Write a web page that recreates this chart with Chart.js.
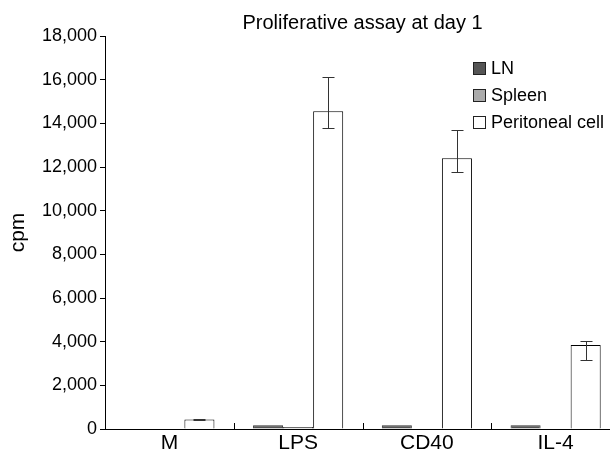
<!DOCTYPE html>
<html>
<head>
<meta charset="utf-8">
<script src="https://cdn.jsdelivr.net/npm/chart.js@4/dist/chart.umd.min.js"></script>
<style>
  body { margin: 0; overflow: hidden; background: #fff; font-family: 'Liberation Sans', Arial, sans-serif; }
  #wrap { position: relative; width: 610px; height: 462px; overflow: hidden; }
  #legend { position: absolute; left: 473px; top: 55px; font-size: 18px; color: #000; }
  .item { height: 27px; display: flex; align-items: center; white-space: nowrap; }
  .box { width: 13px; height: 13px; border: 1px solid #222; margin-right: 5px; box-sizing: border-box; }
</style>
</head>
<body>
<div id="wrap">
  <canvas id="chart" width="620" height="462"></canvas>
  <div id="legend"></div>
</div>
<script>
const categories = ['M', 'LPS', 'CD40', 'IL-4'];
const seriesNames = ['LN', 'Spleen', 'Peritoneal cell'];
const lnValues = [0, 170, 170, 170];
const spleenValues = [0, 90, 0, 0];
const peritonealValues = [440, 14550, 12400, 3850];
const peritonealErrUp = [40, 1550, 1300, 170];
const peritonealErrDown = [40, 780, 640, 680];
const yMax = 18000;
const yStep = 2000;

const fills = ['#555555', '#ababab', '#ffffff'];
const borders = ['#333333', '#222222', '#000000'];

// error bars (peritoneal only) + inner category ticks on the x axis
const extras = {
    id: 'extras',
    afterDatasetsDraw(chart) {
        const ctx = chart.ctx;
        const y = chart.scales.y;
        const x = chart.scales.x;
        const meta = chart.getDatasetMeta(2);
        ctx.save();
        ctx.strokeStyle = '#333';
        ctx.lineWidth = 1;
        meta.data.forEach((bar, i) => {
            const v = peritonealValues[i];
            const top = Math.round(y.getPixelForValue(v + peritonealErrUp[i])) + 0.5;
            const bot = Math.round(y.getPixelForValue(v - peritonealErrDown[i])) + 0.5;
            const cx = Math.round(bar.x) + 0.5;
            ctx.beginPath();
            ctx.moveTo(cx, top); ctx.lineTo(cx, bot);
            ctx.moveTo(cx - 6, top); ctx.lineTo(cx + 6, top);
            ctx.moveTo(cx - 6, bot); ctx.lineTo(cx + 6, bot);
            ctx.stroke();
        });
        ctx.strokeStyle = '#000';
        const base = chart.chartArea.bottom;
        for (let i = 1; i < categories.length; i++) {
            const px = Math.round((x.getPixelForValue(i - 1) + x.getPixelForValue(i)) / 2) + 0.5;
            ctx.beginPath();
            ctx.moveTo(px, base); ctx.lineTo(px, base - 6);
            ctx.stroke();
        }
        ctx.restore();
    }
};

const values = [lnValues, spleenValues, peritonealValues];

let chart = new Chart(document.getElementById('chart').getContext('2d'), {
    type: 'bar',
    data: {
        labels: categories,
        datasets: values.map((v, i) => ({
            label: seriesNames[i],
            data: v,
            backgroundColor: fills[i],
            borderColor: borders[i],
            borderWidth: 1,
            borderSkipped: 'bottom',
            categoryPercentage: 0.7,
            barPercentage: 1.0
        }))
    },
    options: {
        responsive: false,
        animation: false,
        layout: { padding: { left: 6, right: 0, top: 0, bottom: 0 } },
        plugins: {
            legend: { display: false },
            tooltip: { enabled: false },
            title: {
                display: true,
                text: 'Proliferative assay at day 1',
                fullSize: false,
                color: '#000',
                font: { family: 'Liberation Sans', size: 20, weight: 'normal' },
                padding: { top: 11, bottom: 1 }
            }
        },
        scales: {
            x: {
                grid: { display: false, drawTicks: false },
                border: { color: '#000', width: 1 },
                ticks: { color: '#000', padding: 2, font: { family: 'Liberation Sans', size: 21 } },
                afterFit(s) { s.height = 33; }
            },
            y: {
                min: 0,
                max: yMax,
                grid: { drawOnChartArea: false, drawTicks: true, tickLength: 5, color: '#000' },
                border: { color: '#000', width: 1 },
                title: {
                    display: true,
                    text: 'cpm',
                    color: '#000',
                    font: { family: 'Liberation Sans', size: 21 },
                    padding: 0
                },
                ticks: {
                    stepSize: yStep,
                    color: '#000',
                    padding: 3,
                    font: { family: 'Liberation Sans', size: 18 },
                    callback: v => v.toLocaleString('en-US')
                },
                afterFit(s) { s.width = 99; }
            }
        }
    },
    plugins: [extras]
});

let legend = document.getElementById('legend');
seriesNames.forEach((name, i) => {
    legend.innerHTML += `<div class="item"><span class="box" style="background:${fills[i]}"></span>${name}</div>`;
});
</script>
</body>
</html>
